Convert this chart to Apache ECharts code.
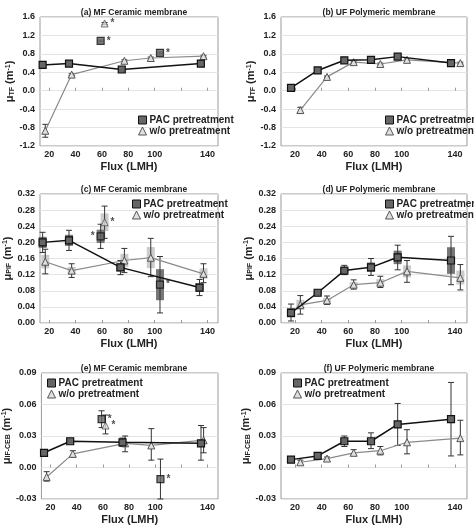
<!DOCTYPE html>
<html><head><meta charset="utf-8">
<script src="https://cdn.jsdelivr.net/npm/echarts@6/dist/echarts.min.js"></script>
<style>html,body{margin:0;padding:0;background:#fff}#c{width:474px;height:526px}</style>
</head><body><div id="c"></div>
<script>
// [flux, value, low, high]
const aPac = [[15,0.56,0.52,0.60],[35,0.59,0.56,0.62],[75,0.46,0.43,0.49],[135,0.59,0.56,0.62]];
const aWo  = [[17,-0.87,-1.01,-0.73],[37,0.35,0.33,0.37],[77,0.65,0.63,0.67],[97,0.71,0.69,0.73],[137,0.75,0.73,0.77]];
const aPacOut = [[59,1.08,1.06,1.10],[104,0.82,0.80,0.84]];
const aWoOut  = [[62,1.46,1.44,1.48]];
const bPac = [[17,0.06,0.03,0.09],[37,0.44,0.42,0.46],[57,0.66,0.64,0.68],[77,0.67,0.65,0.69],[97,0.74,0.72,0.76],[137,0.60,0.58,0.62]];
const bWo  = [[24,-0.42,-0.48,-0.36],[44,0.30,0.28,0.32],[64,0.62,0.60,0.64],[84,0.58,0.56,0.60],[104,0.67,0.65,0.69],[144,0.60,0.58,0.62]];
const cPac = [[15,0.200,0.175,0.225],[35,0.205,0.180,0.230],[74,0.138,0.120,0.155],[134,0.088,0.068,0.108]];
const cWo  = [[17,0.152,0.122,0.183],[37,0.130,0.113,0.147],[77,0.155,0.125,0.185],[97,0.162,0.115,0.210],[137,0.122,0.100,0.147]];
const cPacOut = [[59,0.215,0.185,0.245],[104,0.095,0.025,0.165]];
const cWoOut  = [[62,0.250,0.210,0.290]];
const dPac = [[17,0.025,0.005,0.047],[37,0.075,0.068,0.082],[57,0.130,0.120,0.143],[77,0.138,0.118,0.160],[97,0.163,0.132,0.193],[137,0.155,0.095,0.215]];
const dWo  = [[24,0.045,0.022,0.068],[44,0.056,0.046,0.067],[64,0.095,0.084,0.107],[84,0.100,0.088,0.116],[104,0.128,0.101,0.155],[144,0.112,0.082,0.145]];
const ePac = [[15,0.014,0.011,0.017],[35,0.025,0.0235,0.0265],[75,0.024,0.020,0.028],[135,0.023,0.007,0.040]];
const eWo  = [[17,-0.009,-0.013,-0.004],[37,0.013,0.010,0.016],[77,0.023,0.015,0.030],[97,0.021,0.007,0.037],[137,0.026,0.014,0.038]];
const ePacOut = [[59,0.046,0.038,0.054],[104,-0.011,-0.030,0.008]];
const eWoOut  = [[62,0.040,0.032,0.050]];
const fPac = [[17,0.0075,0.006,0.009],[37,0.011,0.0095,0.0125],[57,0.025,0.020,0.030],[77,0.025,0.018,0.033],[97,0.041,0.021,0.061],[137,0.046,0.011,0.081]];
const fWo  = [[24,0.005,0.003,0.007],[44,0.0085,0.007,0.010],[64,0.014,0.012,0.017],[84,0.016,0.012,0.020],[104,0.024,0.013,0.036],[144,0.028,0.012,0.045]];
const xTicks = [20,40,60,80,100,120,140];
const xLabels = [20,40,60,80,100,140];
const titles = ['(a) MF Ceramic membrane','(b) UF Polymeric membrane','(c) MF Ceramic membrane','(d) UF Polymeric membrane','(e) MF Ceramic membrane','(f) UF Polymeric membrane'];
const yNames = ['TF','TF','PIF','PIF','IF-CEB','IF-CEB'];

const panels = [
 {pac:aPac,wo:aWo,po:aPacOut,wout:aWoOut,ymin:-1.2,ymax:1.6,yi:0.4,dec:1,box:false},
 {pac:bPac,wo:bWo,po:[],wout:[],ymin:-1.2,ymax:1.6,yi:0.4,dec:1,box:false},
 {pac:cPac,wo:cWo,po:cPacOut,wout:cWoOut,ymin:0,ymax:0.32,yi:0.04,dec:2,box:true},
 {pac:dPac,wo:dWo,po:[],wout:[],ymin:0,ymax:0.32,yi:0.04,dec:2,box:true},
 {pac:ePac,wo:eWo,po:ePacOut,wout:eWoOut,ymin:-0.03,ymax:0.09,yi:0.03,dec:2,box:false},
 {pac:fPac,wo:fWo,po:[],wout:[],ymin:-0.03,ymax:0.09,yi:0.03,dec:2,box:false}
];
const grids = [
 {left:40,top:17,width:178,height:129},{left:281,top:17,width:186,height:129},
 {left:40,top:194,width:178,height:129},{left:281,top:194,width:186,height:129},
 {left:40,top:373,width:178,height:128},{left:281,top:373,width:186,height:128}
];
const legendPos = [[133,110],[380,110],[127,194],[380,194],[42,373],[288,373]];
const FONT = 'Arial, "Liberation Sans", sans-serif';

function errSeries(i,data,boxColor,box){
  return {type:'custom',xAxisIndex:i,yAxisIndex:i,silent:true,z:1,data:data,
    renderItem:function(params,api){
      const x=api.value(0),y=api.value(1),lo=api.value(2),hi=api.value(3);
      const pl=api.coord([x,lo]),ph=api.coord([x,hi]);
      const ch=[];
      if(box){
        const bl=api.coord([x,y-(y-lo)*0.55]),bh=api.coord([x,y+(hi-y)*0.55]);
        ch.push({type:'rect',shape:{x:pl[0]-4,y:bh[1],width:8,height:bl[1]-bh[1]},style:{fill:boxColor,stroke:null}});
      }
      const st={stroke:'#333',lineWidth:1};
      ch.push({type:'line',shape:{x1:pl[0],y1:pl[1],x2:ph[0],y2:ph[1]},style:st});
      ch.push({type:'line',shape:{x1:pl[0]-3,y1:pl[1],x2:pl[0]+3,y2:pl[1]},style:st});
      ch.push({type:'line',shape:{x1:ph[0]-3,y1:ph[1],x2:ph[0]+3,y2:ph[1]},style:st});
      return {type:'group',children:ch};
    }};
}
const pacSym={symbol:'rect',symbolSize:7,itemStyle:{color:'#666',borderColor:'#111',borderWidth:1.2}};
const woSym={symbol:'triangle',symbolSize:7,itemStyle:{color:'#e0e0e0',borderColor:'#555',borderWidth:1}};

const option={animation:false,backgroundColor:'#fff',title:[],grid:[],xAxis:[],yAxis:[],series:[],legend:[]};
panels.forEach((p,i)=>{
  const g=grids[i];
  option.grid.push(Object.assign({show:true,borderColor:'#999',borderWidth:1,backgroundColor:'transparent'},g));
  option.title.push({text:titles[i],left:g.left+g.width/2,top:g.top-14,textAlign:'center',
    textStyle:{fontSize:8.5,fontWeight:'bold',color:'#222',fontFamily:FONT}});
  const xmin = (i%2===0)?13:9.5, xmax=(i%2===0)?148:149;
  option.xAxis.push({type:'value',gridIndex:i,min:xmin,max:xmax,
    name:'Flux (LMH)',nameLocation:'middle',nameGap:15,
    nameTextStyle:{fontSize:11,fontWeight:'bold',color:'#222',fontFamily:FONT},
    axisLine:{show:false},splitLine:{show:false},
    axisTick:{show:true,customValues:xTicks,length:3,inside:true,lineStyle:{color:'#999'}},
    axisLabel:{customValues:xLabels,fontSize:9,fontWeight:'bold',color:'#222',margin:4,fontFamily:FONT}});
  option.yAxis.push({type:'value',gridIndex:i,min:p.ymin,max:p.ymax,interval:p.yi,
    name:'{m|μ}{s|'+yNames[i]+'}{m| (m}{p|-1}{m|)}',nameLocation:'middle',nameGap:i<2?23:27,
    nameTextStyle:{rich:{m:{fontSize:11,fontWeight:'bold',color:'#222',fontFamily:FONT},
      s:{fontSize:7,fontWeight:'bold',color:'#222',verticalAlign:'bottom',padding:[4,0,0,0],fontFamily:FONT},
      p:{fontSize:7,fontWeight:'bold',color:'#222',verticalAlign:'top',padding:[0,0,4,0],fontFamily:FONT}}},
    axisLine:{show:false},axisTick:{show:false},
    splitLine:{show:true,lineStyle:{color:'#e4e4e4',width:1}},
    axisLabel:{fontSize:9,fontWeight:'bold',color:'#222',margin:5,fontFamily:FONT,
      formatter:v=>Math.abs(v)<1e-9?(0).toFixed(p.dec):v.toFixed(p.dec)}});
  option.series.push(errSeries(i,p.wo.concat(p.wout),'#cccccc',p.box));
  option.series.push(errSeries(i,p.pac.concat(p.po),'#777777',p.box));
  option.series.push(Object.assign({type:'line',name:'w/o pretreatment',xAxisIndex:i,yAxisIndex:i,z:3,
    data:p.wo.map(d=>[d[0],d[1]]),lineStyle:{color:'#8a8a8a',width:1.2}},woSym));
  option.series.push(Object.assign({type:'line',name:'PAC pretreatment',xAxisIndex:i,yAxisIndex:i,z:4,
    data:p.pac.map(d=>[d[0],d[1]]),lineStyle:{color:'#111',width:1.5}},pacSym));
  if(p.po.length) option.series.push(Object.assign({type:'scatter',name:'PAC pretreatment',xAxisIndex:i,yAxisIndex:i,z:4,
    data:p.po.map((d,k)=>({value:[d[0],d[1]],label:{show:true,formatter:'*',position:(i===2&&k===0)?'left':'right',distance:2,fontSize:10,fontWeight:'bold',color:'#222'}}))},pacSym));
  if(p.wout.length) option.series.push(Object.assign({type:'scatter',name:'w/o pretreatment',xAxisIndex:i,yAxisIndex:i,z:3,
    data:p.wout.map(d=>({value:[d[0],d[1]],label:{show:true,formatter:'*',position:'right',distance:2,fontSize:10,fontWeight:'bold',color:'#222'}}))},woSym));
  option.legend.push({left:legendPos[i][0],top:legendPos[i][1],orient:'vertical',itemGap:1,itemWidth:8,itemHeight:8,
    data:[{name:'PAC pretreatment',icon:'rect',itemStyle:{color:'#666',borderColor:'#111',borderWidth:1}},
          {name:'w/o pretreatment',icon:'triangle',itemStyle:{color:'#e0e0e0',borderColor:'#555',borderWidth:1}}],
    selectedMode:false,textStyle:{fontSize:10,fontWeight:'bold',color:'#222',fontFamily:FONT,padding:[0,0,0,-2]}});
});
echarts.init(document.getElementById('c')).setOption(option);
</script></body></html>
